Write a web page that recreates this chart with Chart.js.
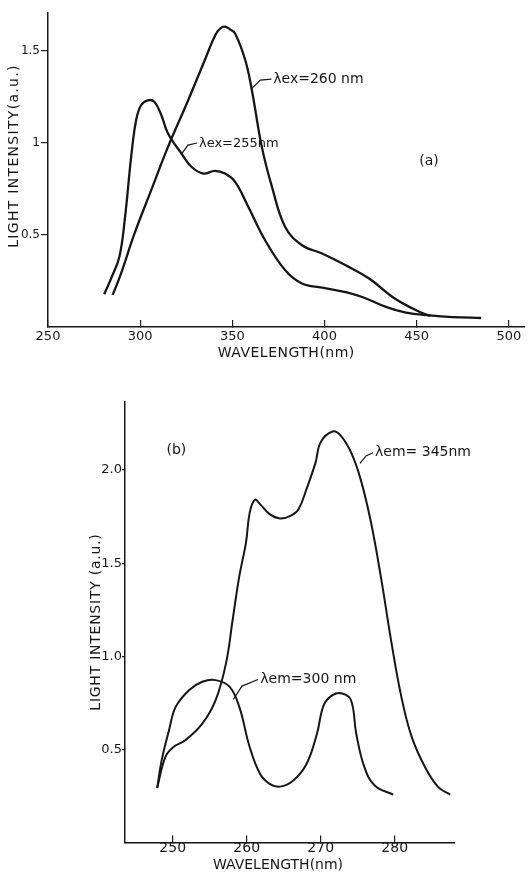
<!DOCTYPE html>
<html>
<head>
<meta charset="utf-8">
<title>Light intensity spectra</title>
<script src="https://cdn.jsdelivr.net/npm/chart.js@4.4.1/dist/chart.umd.min.js"></script>
<style>
  html, body { margin: 0; padding: 0; background: #fff; }
  .panel { position: absolute; left: 0; }
</style>
</head>
<body>
<canvas id="chartA" class="panel" style="top:0" width="530" height="380"></canvas>
<canvas id="chartB" class="panel" style="top:380px" width="530" height="492"></canvas>
<script>
// panel (a): emission spectra
const wlEx255 = [280.5, 284.2, 288.7, 291.8, 295.1, 297.8, 300.5, 304.2, 307.8, 311.5, 315.1, 322.4, 327.8, 334.2, 340.5, 346.0, 351.5, 358.7, 367.8, 378.7, 387.8, 398.7, 411.5, 420.5, 433.3, 444.2, 457.0, 469.6, 485.0];
const intEx255 = [0.178, 0.263, 0.380, 0.597, 0.923, 1.123, 1.204, 1.231, 1.222, 1.150, 1.051, 0.942, 0.870, 0.833, 0.848, 0.833, 0.788, 0.652, 0.471, 0.308, 0.236, 0.214, 0.190, 0.163, 0.109, 0.078, 0.063, 0.054, 0.049];
const wlEx260 = [285.1, 289.6, 296.9, 306.0, 315.1, 326.0, 335.1, 341.0, 344.2, 346.5, 348.7, 351.5, 357.0, 360.6, 366.0, 371.5, 378.7, 387.8, 398.7, 411.5, 424.2, 436.9, 447.8, 455.1, 457.5];
const intEx260 = [0.174, 0.290, 0.507, 0.743, 0.978, 1.230, 1.450, 1.590, 1.627, 1.630, 1.616, 1.594, 1.450, 1.286, 0.978, 0.761, 0.543, 0.444, 0.399, 0.335, 0.263, 0.163, 0.100, 0.067, 0.062];
const xTicksA = [250, 300, 350, 400, 450, 500];
const yTicksA = [0.5, 1, 1.5];

// panel (b): excitation spectra
const wlEm300 = [247.9, 248.5, 249.5, 250.4, 252.2, 254.0, 255.8, 257.7, 259.0, 260.4, 261.8, 263.1, 264.5, 266.3, 268.1, 269.5, 270.4, 271.6, 272.9, 274.1, 274.8, 275.9, 277.3, 279.8];
const intEm300 = [0.293, 0.441, 0.603, 0.728, 0.818, 0.863, 0.872, 0.836, 0.728, 0.513, 0.369, 0.315, 0.300, 0.333, 0.423, 0.585, 0.737, 0.791, 0.800, 0.764, 0.585, 0.405, 0.306, 0.257];
const wlEm345 = [247.9, 249.0, 250.1, 251.7, 254.0, 255.8, 257.2, 258.1, 259.0, 259.9, 260.4, 261.1, 261.8, 263.1, 264.5, 265.9, 267.0, 268.1, 269.3, 270.0, 271.6, 272.7, 274.1, 275.4, 276.8, 278.2, 279.5, 280.9, 282.3, 284.1, 285.9, 287.5];
const intEm345 = [0.293, 0.459, 0.513, 0.549, 0.638, 0.764, 0.962, 1.196, 1.430, 1.610, 1.770, 1.840, 1.817, 1.763, 1.740, 1.754, 1.790, 1.900, 2.040, 2.150, 2.207, 2.185, 2.095, 1.950, 1.718, 1.410, 1.088, 0.782, 0.567, 0.405, 0.297, 0.257];
const xTicksB = [250, 260, 270, 280];
const yTicksB = [0.5, 1.0, 1.5, 2.0];

const ink = '#161616';
const font = '"DejaVu Sans", sans-serif';

const toPoints = (xs, ys) => xs.map((x, i) => ({ x: x, y: ys[i] }));

function curve(xs, ys, width) {
    return {
        data: toPoints(xs, ys),
        borderColor: ink,
        borderWidth: width,
        pointRadius: 0,
        fill: false,
        tension: 0.4
    };
}

// curve labels with leader lines, and the axis titles
const notesPlugin = {
    id: 'notes',
    afterDraw(chart, args, opts) {
        const { ctx, chartArea: area } = chart;
        const sx = chart.scales.x, sy = chart.scales.y;
        ctx.save();
        ctx.fillStyle = ink;
        ctx.strokeStyle = ink;
        ctx.textBaseline = 'middle';
        (opts.notes || []).forEach(n => {
            if (n.leader) {
                ctx.lineWidth = 1.2;
                ctx.beginPath();
                n.leader.forEach((p, i) => {
                    const px = sx.getPixelForValue(p[0]), py = sy.getPixelForValue(p[1]);
                    if (i) ctx.lineTo(px, py); else ctx.moveTo(px, py);
                });
                ctx.stroke();
            }
            ctx.font = (n.size || 14) + 'px ' + font;
            ctx.textAlign = 'left';
            ctx.fillText(n.text, sx.getPixelForValue(n.x), sy.getPixelForValue(n.y));
        });
        (opts.titles || []).forEach(t => {
            ctx.save();
            ctx.font = '14px ' + font;
            ctx.letterSpacing = t.spacing + 'px';
            ctx.textAlign = 'center';
            if (t.axis === 'x') {
                ctx.translate((area.left + area.right) / 2 + t.shift, area.bottom + t.offset);
            } else {
                ctx.translate(area.left - t.offset, (area.top + area.bottom) / 2 + t.shift);
                ctx.rotate(-Math.PI / 2);
            }
            ctx.fillText(t.text, 0, 0);
            ctx.restore();
        });
        ctx.restore();
    }
};

function axes(o) {
    return {
        x: {
            type: 'linear',
            min: o.xMin, max: o.xMax,
            afterBuildTicks: s => { s.ticks = o.xTicks.map(v => ({ value: v })); },
            afterFit: s => { s.height = o.xHeight; },
            border: { display: true, color: ink, width: 1.5 },
            grid: { drawOnChartArea: false, tickLength: -7, color: ink, lineWidth: 1.2 },
            ticks: { color: ink, font: { family: font, size: o.xSize }, padding: o.xPad, maxRotation: 0 }
        },
        y: {
            type: 'linear',
            min: 0, max: o.yMax,
            afterBuildTicks: s => { s.ticks = o.yTicks.map(v => ({ value: v })); },
            afterFit: s => { s.width = o.yWidth; },
            border: { display: true, color: ink, width: 1.5 },
            grid: { drawOnChartArea: false, tickLength: o.yTick, color: ink, lineWidth: 1.2 },
            ticks: { color: ink, font: { family: font, size: o.ySize }, padding: o.yPad, callback: o.fmt }
        }
    };
}

new Chart(document.getElementById('chartA').getContext('2d'), {
    type: 'line',
    data: {
        datasets: [curve(wlEx255, intEx255, 2.3), curve(wlEx260, intEx260, 2.3)]
    },
    options: {
        responsive: false,
        animation: false,
        layout: { padding: { top: 13, right: 2, left: 0, bottom: 0 } },
        scales: axes({
            xMin: 250, xMax: 508.5, xTicks: xTicksA, xHeight: 53, xPad: 8.7, xSize: 13,
            yMax: 1.705, yTicks: yTicksA, yWidth: 48, yTick: 7, yPad: 1, ySize: 12,
            fmt: v => String(v)
        }),
        plugins: {
            legend: { display: false },
            tooltip: { enabled: false },
            notes: {
                notes: [
                    { text: 'λex=260 nm', x: 372.2, y: 1.346, leader: [[360.6, 1.296], [365.2, 1.341], [371.2, 1.346]] },
                    { text: 'λex=255nm', x: 331.9, y: 0.995, size: 13, leader: [[322.5, 0.940], [325.9, 0.988], [330.8, 0.999]] },
                    { text: '(a)', x: 451.4, y: 0.900 }
                ],
                titles: [
                    { axis: 'x', text: 'WAVELENGTH(nm)', offset: 26, shift: 0, spacing: 0.5 },
                    { axis: 'y', text: 'LIGHT INTENSITY(a.u.)', offset: 34, shift: -14, spacing: 1.3 }
                ]
            }
        }
    },
    plugins: [notesPlugin]
});

new Chart(document.getElementById('chartB').getContext('2d'), {
    type: 'line',
    data: {
        datasets: [curve(wlEm300, intEm300, 2), curve(wlEm345, intEm345, 2)]
    },
    options: {
        responsive: false,
        animation: false,
        layout: { padding: { top: 21.7, right: 75, left: 0, bottom: 0 } },
        scales: axes({
            xMin: 243.55, xMax: 288.15, xTicks: xTicksB, xHeight: 29.5, xPad: 4, xSize: 14,
            yMax: 2.367, yTicks: yTicksB, yWidth: 125, yTick: 3, yPad: 0, ySize: 13,
            fmt: v => v.toFixed(1)
        }),
        plugins: {
            legend: { display: false },
            tooltip: { enabled: false },
            notes: {
                notes: [
                    { text: 'λem= 345nm', x: 277.34, y: 2.094, leader: [[275.31, 2.036], [276.12, 2.076], [277.07, 2.093]] },
                    { text: 'λem=300 nm', x: 261.84, y: 0.877, leader: [[258.19, 0.768], [259.36, 0.840], [261.53, 0.875]] },
                    { text: '(b)', x: 249.16, y: 2.108 }
                ],
                titles: [
                    { axis: 'x', text: 'WAVELENGTH(nm)', offset: 22.5, shift: -12, spacing: 0 },
                    { axis: 'y', text: 'LIGHT INTENSITY (a.u.)', offset: 29, shift: 0, spacing: 0.75 }
                ]
            }
        }
    },
    plugins: [notesPlugin]
});
</script>
</body>
</html>
